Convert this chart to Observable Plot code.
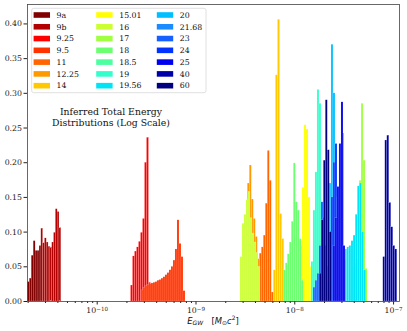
<!DOCTYPE html>
<html><head><meta charset="utf-8">
<script src="https://cdn.jsdelivr.net/npm/d3@7"></script>
<script src="https://cdn.jsdelivr.net/npm/@observablehq/plot@0.6"></script>
<style>
body{margin:0;background:#fff;}
#wrap{position:relative;width:407px;height:331px;overflow:hidden;}
</style></head><body><div id="wrap"></div>
<script>
// Series labels and colours (legend order = drawing order)
const labels = ["9a","9b","9.25","9.5","11","12.25","14","15.01","16","17","18","18.5","19","19.56","20","21.68","23","24","25","40","60"];
const colors = ["#800000","#b30000","#ff0000","#ff3300","#ff6600","#ff9900","#ffc800","#ffff00","#ccff33","#a0ff40","#6cff70","#4dffa0","#33ffcc","#00e5f5","#00bfff","#1a8cff","#1560ff","#0033ff","#0000ee","#0000aa","#000080"];
// log10 of the first and last bin edge of each histogram
const logLo = [-10.7024,-10.5658,-9.6579,-9.5516,-8.3543,-8.5364,-8.2126,-7.9423,-8.5496,-7.4464,-8.1113,-7.8310,-7.8310,-7.4899,-7.6690,-7.5810,-7.8108,-7.6488,-7.6083,-7.1043,-7.7470];
const logHi = [-10.5638,-10.3634,-9.4555,-9.1063,-8.2126,-8.3543,-8.1063,-7.8209,-8.3471,-7.2632,-7.9089,-7.7095,-7.7095,-7.2773,-7.5678,-7.4798,-7.6690,-7.5071,-7.4868,-6.9626,-7.6255];
// bin heights (fraction per bin)
const h9a   = [0.028,0.033,0.066,0.087,0.073,0.073,0.080];
const h9b   = [0.105,0.084,0.091,0.085,0.079,0.078,0.085,0.099,0.133,0.129,0.106];
const h925  = [0.023,0.065,0.072,0.078,0.086,0.099,0.119,0.200,0.236,0.027];
const h95   = [0.016,0.020,0.022,0.024,0.025,0.026,0.027,0.028,0.030,0.031,0.033,0.035,0.038,0.041,0.045,0.050,0.059,0.075,0.117,0.083,0.064,0.015];
const h11   = [0.069,0.078,0.095,0.141,0.217,0.174,0.013];
const h1225 = [0.030,0.060,0.100,0.170,0.196,0.147,0.119,0.093,0.061];
const h14   = [0.045,0.326,0.406,0.126,0.090];
const h1501 = [0.080,0.164,0.254,0.248,0.150,0.050];
const h16   = [0.064,0.112,0.125,0.146,0.158,0.120,0.098,0.085,0.070,0.050];
const h17   = [0.040,0.045,0.050,0.055,0.060,0.174,0.285,0.203,0.047];
const h18   = [0.045,0.055,0.068,0.085,0.115,0.199,0.143,0.131,0.090,0.030];
const h185  = [0.030,0.080,0.120,0.200,0.150,0.050];
const h19   = [0.057,0.131,0.186,0.305,0.285,0.030];
const h1956 = [0.075,0.078,0.080,0.087,0.095,0.125,0.166,0.170,0.100,0.045];
const h20   = [0.050,0.170,0.370,0.300,0.080];
const h2168 = [0.080,0.120,0.180,0.242,0.060];
const h23   = [0.020,0.030,0.040,0.080,0.143,0.120,0.080];
const h24   = [0.100,0.150,0.200,0.227,0.150,0.100,0.050];
const h25   = [0.080,0.120,0.165,0.227,0.287,0.080];
const h40   = [0.064,0.232,0.239,0.142,0.107,0.080,0.075];
const h60   = [0.040,0.117,0.203,0.290,0.218,0.100];
const heights = [h9a,h9b,h925,h95,h11,h1225,h14,h1501,h16,h17,h18,h185,h19,h1956,h20,h2168,h23,h24,h25,h40,h60];

const yTicks = [0,0.05,0.10,0.15,0.20,0.25,0.30,0.35,0.40];
const xMajor = [-10,-9,-8,-7];
const xDomainLog = [-10.7055,-6.940];
const yMax = 0.428;
const titleLines = ["Inferred Total Energy","Distributions (Log Scale)"];

const bars = [];
labels.forEach((lab,i)=>{
  const v = heights[i], n = v.length, w = (logHi[i]-logLo[i])/n;
  v.forEach((y,k)=>bars.push({series:lab, order:i, x1:10**(logLo[i]+k*w), x2:10**(logLo[i]+(k+1)*w), y}));
});
const minor = [];
for (let e=-11;e<=-7;e++) for (let m=2;m<=9;m++){const v=m*10**e; if(v>10**xDomainLog[0]&&v<10**xDomainLog[1]) minor.push(v);}

const serif = "DejaVu Serif, serif";
const chart = Plot.plot({
  width:407, height:331, marginLeft:27, marginRight:8, marginTop:4, marginBottom:30,
  style:{fontFamily:serif, fontSize:"7.8px", background:"#fff", color:"#222"},
  x:{type:"log", domain:xDomainLog.map(d=>10**d)},
  y:{domain:[0,yMax]},
  color:{domain:labels, range:colors},
  marks:[
    Plot.rectY(bars,{x1:"x1",x2:"x2",y1:0,y2:"y",fill:"series",stroke:"#fff",strokeWidth:0.3,strokeOpacity:0.5}),
    Plot.axisY({ticks:yTicks, tickFormat:d3.format(".2f"), tickSize:3.5, tickPadding:2, fontSize:7.8, label:null}),
    Plot.axisX({ticks:minor, tickSize:2, text:null, label:null}),
    Plot.axisX({ticks:xMajor.map(d=>10**d), tickSize:3.5, tickPadding:2.5, tickFormat:d=>"10|"+Math.round(Math.log10(d)), fontSize:7.8, label:null}),
    Plot.frame({stroke:"#444", strokeWidth:0.8})
  ]
});
document.getElementById("wrap").appendChild(chart);
const svg = d3.select(chart);
// superscript exponents on x tick labels
svg.selectAll("g[aria-label='x-axis tick label'] text").each(function(){
  const t = d3.select(this); const s = t.text(); if(!s.includes("|")) return;
  const [b,e] = s.split("|");
  t.text(null);
  t.append("tspan").text(b);
  t.append("tspan").attr("dy","-0.45em").attr("font-size","5.6px").text(e.replace("-","\u2212"));
});
// title annotation
const title = svg.append("g").attr("text-anchor","middle").attr("font-family",serif).attr("font-size","9.3px").attr("fill","#111");
titleLines.forEach((s,i)=>title.append("text").attr("x",111).attr("y",114.5+i*11.8).text(s));
// x label
const xl = svg.append("text").attr("x",213).attr("y",323.5).attr("text-anchor","middle").attr("font-size","8.4px").attr("fill","#111");
xl.append("tspan").attr("font-family","DejaVu Sans").attr("font-style","italic").text("E");
xl.append("tspan").attr("font-family","DejaVu Sans").attr("font-style","italic").attr("font-size","6px").attr("dy","1.6").text("GW");
xl.append("tspan").attr("font-family","DejaVu Sans").attr("dy","-1.6").text("\u2003[");
xl.append("tspan").attr("font-family","DejaVu Sans").attr("font-style","italic").text("M");
xl.append("tspan").attr("font-family","DejaVu Sans").attr("font-size","6px").attr("dy","1.6").text("\u2299");
xl.append("tspan").attr("font-family","DejaVu Sans").attr("font-style","italic").attr("dy","-1.6").text("c");
xl.append("tspan").attr("font-family","DejaVu Sans").attr("font-size","6px").attr("dy","-3.2").text("2");
xl.append("tspan").attr("font-family","DejaVu Sans").attr("dy","3.2").text("]");
// legend
const lg = svg.append("g").attr("text-anchor","start");
lg.append("rect").attr("x",31.7).attr("y",8.3).attr("width",174.3).attr("height",84.4).attr("rx",2).attr("fill","#fff").attr("fill-opacity",0.8).attr("stroke","#d8d8d8").attr("stroke-width",0.8);
const colX = [33.6,96.2,156.8];
labels.forEach((lab,i)=>{
  const c = Math.floor(i/7), r = i%7;
  const cy = 15 + r*11.78;
  lg.append("rect").attr("x",colX[c]).attr("y",cy-2.8).attr("width",16.4).attr("height",5.6).attr("fill",colors[i]);
  lg.append("text").attr("x",colX[c]+23).attr("y",cy+2.8).attr("text-anchor","start").attr("font-size","7.8px").attr("font-family",serif).attr("fill","#111").text(lab);
});
</script></body></html>
